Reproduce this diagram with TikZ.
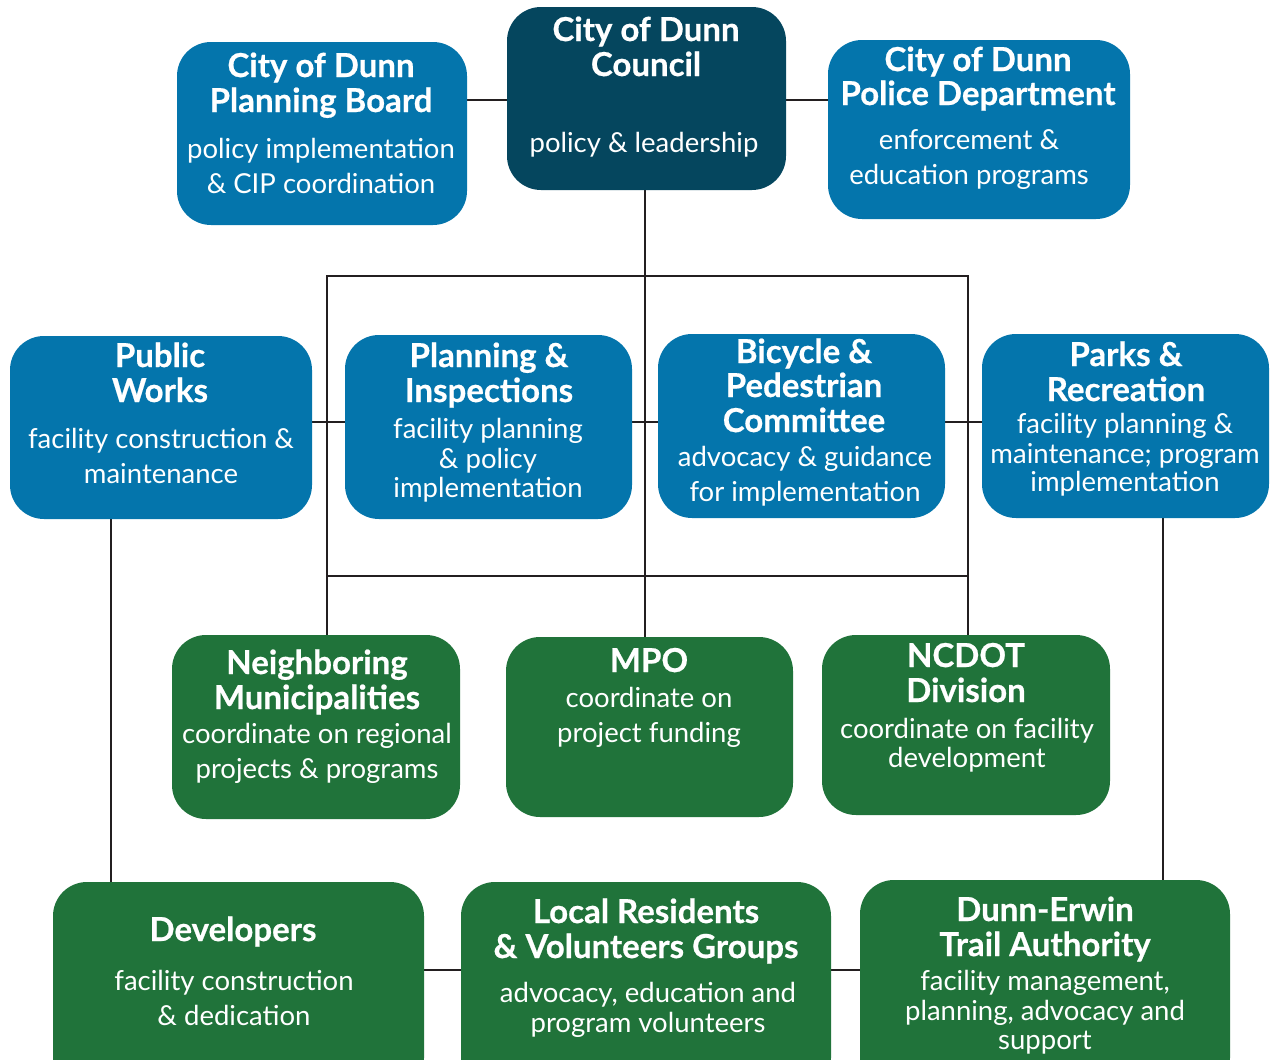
\documentclass[tikz,border=0pt]{standalone}
\usepackage{fontspec}
\setmainfont{Lato}
\newfontfamily\heavyfont{Lato}[BoldFeatures={FakeBold=0.6}]
\pgfdeclarelayer{bg}
\pgfsetlayers{bg,main}
\definecolor{navy}{HTML}{05465E}
\definecolor{cblue}{HTML}{0475AC}
\definecolor{cgreen}{HTML}{20733A}
\definecolor{lineC}{HTML}{231F20}
\tikzset{
  box/.style={rectangle, rounded corners=34pt, inner sep=0pt, draw=none},
  bluebox/.style={box, fill=cblue},
  navybox/.style={box, fill=navy},
  greenbox/.style={box, fill=cgreen},
  ttl/.style={anchor=base, text=white, inner sep=0pt, font=\heavyfont\fontsize{33}{33}\selectfont\bfseries},
  bdy/.style={anchor=base, text=white, inner sep=0pt, font=\fontsize{27.5}{27.5}\selectfont},
  conn/.style={draw=lineC, line width=2.5pt},
}
\begin{document}
\begin{tikzpicture}[x=1pt,y=-1pt]
\useasboundingbox (0,0) rectangle (1270,1060);
\clip (0,0) rectangle (1270,1060);
% boxes
\node[navybox, minimum width=279pt, minimum height=183pt] (council) at (646.5,98.5) {};
\node[bluebox, minimum width=290pt, minimum height=183pt] (pb) at (322,133.5) {};
\node[bluebox, minimum width=302pt, minimum height=179pt] (police) at (979,129.5) {};
\node[bluebox, minimum width=302pt, minimum height=183pt] (pw) at (161,427.5) {};
\node[bluebox, minimum width=287pt, minimum height=184pt] (pi) at (488.5,427) {};
\node[bluebox, minimum width=287pt, minimum height=184pt] (bike) at (801.5,426) {};
\node[bluebox, minimum width=287pt, minimum height=184pt] (parks) at (1125.5,426) {};
\node[greenbox, minimum width=288pt, minimum height=184pt] (nb) at (316,727) {};
\node[greenbox, minimum width=287pt, minimum height=180pt] (mpo) at (649.5,727) {};
\node[greenbox, minimum width=288pt, minimum height=180pt] (nc) at (966,725) {};
\node[greenbox, minimum width=371pt, minimum height=210pt] (dev) at (238.5,987) {};
\node[greenbox, minimum width=370pt, minimum height=210pt] (local) at (646,987) {};
\node[greenbox, minimum width=370pt, minimum height=212pt] (dea) at (1045,986) {};
% helper coordinates
\coordinate (rtl) at (327,276);
\coordinate (rbr) at (968,576);
\coordinate (hline) at (645,422);
\coordinate (topline) at (645,100);
\coordinate (botline) at (645,970);
\coordinate (pwx) at (111,0);
\coordinate (prx) at (1163,0);
\begin{pgfonlayer}{bg}
\draw[conn] (pb.east |- topline) -- (council.west |- topline);
\draw[conn] (council.east |- topline) -- (police.west |- topline);
\draw[conn] (council.south -| hline) -- (mpo.north -| hline);
\draw[conn] (rtl) rectangle (rbr);
\draw[conn] (rtl |- rbr) -- (rtl |- nb.north);
\draw[conn] (rbr) -- (rbr |- nc.north);
\draw[conn] (pw.east |- hline) -- (parks.west |- hline);
\draw[conn] (pw.south -| pwx) -- (dev.north -| pwx);
\draw[conn] (parks.south -| prx) -- (dea.north -| prx);
\draw[conn] (dev.east |- botline) -- (local.west |- botline);
\draw[conn] (local.east |- botline) -- (dea.west |- botline);
\end{pgfonlayer}
% texts
\node[ttl] (council-t1) at (646,41) {City of Dunn};
\node[ttl] (council-t2) at (646,76) {Council};
\node[bdy] (council-b1) at (644,152) {policy \& leadership};

\node[ttl] (pb-t1) at (321,77) {City of Dunn};
\node[ttl] (pb-t2) at (321,112) {Planning Board};
\node[bdy] (pb-b1) at (321,158) {policy implementation};
\node[bdy] (pb-b2) at (321,193) {\& CIP coordination};

\node[ttl] (po-t1) at (978,71) {City of Dunn};
\node[ttl] (po-t2) at (978,105) {Police Department};
\node[bdy] (po-b1) at (969,149) {enforcement \&};
\node[bdy] (po-b2) at (969,184) {education programs};

\node[ttl] (pw-t1) at (160,367) {Public};
\node[ttl] (pw-t2) at (160,402) {Works};
\node[bdy] (pw-b1) at (161,448) {facility construction \&};
\node[bdy] (pw-b2) at (161,483) {maintenance};

\node[ttl] (pi-t1) at (489,367) {Planning \&};
\node[ttl] (pi-t2) at (489,402) {Inspections};
\node[bdy] (pi-b1) at (488,438) {facility planning};
\node[bdy] (pi-b2) at (488,468) {\& policy};
\node[bdy] (pi-b3) at (488,497) {implementation};

\node[ttl] (bk-t1) at (804,363) {Bicycle \&};
\node[ttl] (bk-t2) at (804,397) {Pedestrian};
\node[ttl] (bk-t3) at (804,432) {Committee};
\node[bdy] (bk-b1) at (805,466) {advocacy \& guidance};
\node[bdy] (bk-b2) at (805,501) {for implementation};

\node[ttl] (pr-t1) at (1126,366) {Parks \&};
\node[ttl] (pr-t2) at (1126,401) {Recreation};
\node[bdy] (pr-b1) at (1125,433) {facility planning \&};
\node[bdy] (pr-b2) at (1125,463) {maintenance; program};
\node[bdy] (pr-b3) at (1125,491) {implementation};

\node[ttl] (nb-t1) at (317,674) {Neighboring};
\node[ttl] (nb-t2) at (317,709) {Municipalities};
\node[bdy] (nb-b1) at (317,743) {coordinate on regional};
\node[bdy] (nb-b2) at (317,778) {projects \& programs};

\node[ttl] (mpo-t1) at (649,672) {MPO};
\node[bdy] (mpo-b1) at (649,707) {coordinate on};
\node[bdy] (mpo-b2) at (649,742) {project funding};

\node[ttl] (nc-t1) at (966,667) {NCDOT};
\node[ttl] (nc-t2) at (966,702) {Division};
\node[bdy] (nc-b1) at (967,738) {coordinate on facility};
\node[bdy] (nc-b2) at (967,767) {development};

\node[ttl] (dev-t1) at (233,941) {Developers};
\node[bdy] (dev-b1) at (234,990) {facility construction};
\node[bdy] (dev-b2) at (234,1025) {\& dedication};

\node[ttl] (lr-t1) at (646,923) {Local Residents};
\node[ttl] (lr-t2) at (646,958) {\& Volunteers Groups};
\node[bdy] (lr-b1) at (648,1002) {advocacy, education and};
\node[bdy] (lr-b2) at (648,1032) {program volunteers};

\node[ttl] (de-t1) at (1045,921) {Dunn-Erwin};
\node[ttl] (de-t2) at (1045,956) {Trail Authority};
\node[bdy] (de-b1) at (1045,990) {facility management,};
\node[bdy] (de-b2) at (1045,1020) {planning, advocacy and};
\node[bdy] (de-b3) at (1045,1049) {support};
\end{tikzpicture}
\end{document}
